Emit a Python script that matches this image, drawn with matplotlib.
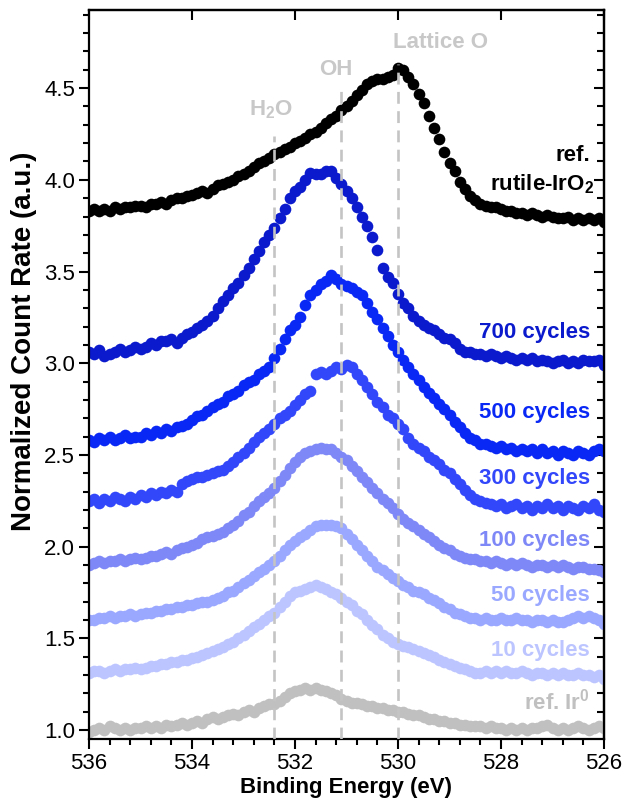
import matplotlib
matplotlib.use('Agg')

import matplotlib.pyplot as plt
import numpy as np
from matplotlib.ticker import MultipleLocator

plt.rcParams['font.family'] = 'Liberation Sans'
plt.rcParams['mathtext.fontset'] = 'custom'
plt.rcParams['mathtext.rm'] = 'Liberation Sans'
plt.rcParams['mathtext.bf'] = 'Liberation Sans:bold'

# O 1s scan grid, 536 -> 526 eV in 0.1 eV steps
energy = np.linspace(536, 526, 101)

ref_rutile = [
    3.83, 3.84, 3.83, 3.84, 3.83, 3.85, 3.84, 3.85, 3.85, 3.86,
    3.86, 3.85, 3.87, 3.87, 3.88, 3.87, 3.89, 3.90, 3.90, 3.91,
    3.92, 3.93, 3.94, 3.93, 3.95, 3.97, 3.98, 3.99, 4.00, 4.02,
    4.03, 4.05, 4.07, 4.09, 4.10, 4.12, 4.14, 4.15, 4.17, 4.18,
    4.20, 4.21, 4.23, 4.25, 4.26, 4.28, 4.31, 4.33, 4.35, 4.38,
    4.40, 4.43, 4.46, 4.49, 4.52, 4.54, 4.55, 4.55, 4.56, 4.57,
    4.61, 4.60, 4.56, 4.52, 4.47, 4.42, 4.35, 4.28, 4.22, 4.15,
    4.09, 4.05, 3.99, 3.95, 3.91, 3.89, 3.87, 3.86, 3.85, 3.85,
    3.84, 3.83, 3.83, 3.82, 3.82, 3.81, 3.82, 3.81, 3.80, 3.81,
    3.80, 3.79, 3.79, 3.80, 3.78, 3.79, 3.78, 3.79, 3.78, 3.79,
    3.77]

cyc700 = [
    3.06, 3.05, 3.07, 3.04, 3.05, 3.06, 3.08, 3.06, 3.07, 3.09,
    3.08, 3.09, 3.11, 3.10, 3.12, 3.12, 3.13, 3.11, 3.14, 3.16,
    3.17, 3.19, 3.21, 3.23, 3.26, 3.30, 3.34, 3.37, 3.41, 3.44,
    3.48, 3.52, 3.57, 3.61, 3.66, 3.70, 3.74, 3.79, 3.84, 3.90,
    3.94, 3.96, 4.00, 4.04, 4.03, 4.03, 4.05, 4.05, 4.01, 3.98,
    3.94, 3.90, 3.85, 3.80, 3.75, 3.69, 3.62, 3.52, 3.47, 3.44,
    3.38, 3.33, 3.30, 3.26, 3.23, 3.21, 3.19, 3.18, 3.16, 3.14,
    3.13, 3.11, 3.08, 3.06, 3.06, 3.05, 3.05, 3.04, 3.05, 3.04,
    3.03, 3.04, 3.03, 3.02, 3.03, 3.02, 3.03, 3.01, 3.02, 3.01,
    3.00, 3.01, 3.02, 3.00, 3.01, 3.00, 3.02, 3.01, 3.01, 3.02,
    2.99]

cyc500 = [
    2.58, 2.57, 2.59, 2.58, 2.60, 2.58, 2.59, 2.61, 2.59, 2.60,
    2.60, 2.62, 2.61, 2.63, 2.62, 2.64, 2.63, 2.65, 2.66, 2.67,
    2.69, 2.71, 2.72, 2.74, 2.76, 2.78, 2.79, 2.82, 2.83, 2.85,
    2.88, 2.90, 2.91, 2.94, 2.96, 2.98, 3.03, 3.08, 3.13, 3.18,
    3.21, 3.25, 3.32, 3.37, 3.40, 3.43, 3.45, 3.48, 3.46, 3.43,
    3.42, 3.41, 3.39, 3.37, 3.33, 3.28, 3.24, 3.19, 3.15, 3.10,
    3.06, 3.02, 2.98, 2.94, 2.91, 2.87, 2.84, 2.81, 2.78, 2.75,
    2.72, 2.68, 2.65, 2.62, 2.59, 2.58, 2.56, 2.56, 2.55, 2.54,
    2.55, 2.53, 2.54, 2.52, 2.53, 2.52, 2.53, 2.51, 2.53, 2.51,
    2.52, 2.50, 2.52, 2.51, 2.50, 2.52, 2.51, 2.50, 2.52, 2.53,
    2.52]

cyc300 = [
    2.25, 2.26, 2.24, 2.26, 2.25, 2.27, 2.26, 2.25, 2.27, 2.26,
    2.28, 2.27, 2.29, 2.28, 2.30, 2.29, 2.31, 2.30, 2.34, 2.36,
    2.37, 2.38, 2.38, 2.39, 2.40, 2.41, 2.42, 2.44, 2.46, 2.49,
    2.51, 2.54, 2.57, 2.60, 2.62, 2.64, 2.67, 2.70, 2.72, 2.74,
    2.77, 2.80, 2.83, 2.85, 2.94, 2.95, 2.94, 2.96, 2.98, 2.97,
    2.99, 2.98, 2.94, 2.91, 2.87, 2.83, 2.79, 2.76, 2.72, 2.70,
    2.67, 2.64, 2.59, 2.56, 2.54, 2.52, 2.49, 2.47, 2.45, 2.42,
    2.40, 2.37, 2.34, 2.31, 2.28, 2.26, 2.25, 2.24, 2.23, 2.22,
    2.23, 2.21, 2.22, 2.23, 2.21, 2.22, 2.20, 2.22, 2.21, 2.23,
    2.21, 2.22, 2.20, 2.22, 2.21, 2.20, 2.22, 2.21, 2.23, 2.20,
    2.19]

cyc100 = [
    1.90, 1.91, 1.92, 1.91, 1.92, 1.92, 1.93, 1.92, 1.93, 1.94,
    1.93, 1.94, 1.95, 1.95, 1.96, 1.97, 1.96, 1.98, 1.99, 2.00,
    2.01, 2.02, 2.04, 2.05, 2.06, 2.07, 2.08, 2.10, 2.12, 2.14,
    2.17, 2.19, 2.22, 2.25, 2.27, 2.29, 2.32, 2.36, 2.39, 2.43,
    2.46, 2.49, 2.51, 2.52, 2.53, 2.54, 2.53, 2.53, 2.51, 2.49,
    2.47, 2.44, 2.41, 2.38, 2.35, 2.32, 2.29, 2.26, 2.24, 2.21,
    2.18, 2.15, 2.13, 2.11, 2.09, 2.07, 2.05, 2.03, 2.01, 1.99,
    1.98, 1.96, 1.95, 1.94, 1.93, 1.93, 1.92, 1.92, 1.91, 1.92,
    1.91, 1.90, 1.91, 1.90, 1.91, 1.90, 1.89, 1.90, 1.90, 1.89,
    1.90, 1.89, 1.90, 1.89, 1.88, 1.89, 1.89, 1.88, 1.88, 1.87,
    1.86]

cyc50 = [
    1.60, 1.60, 1.61, 1.61, 1.62, 1.61, 1.62, 1.62, 1.63, 1.62,
    1.63, 1.64, 1.64, 1.65, 1.65, 1.66, 1.66, 1.67, 1.67, 1.68,
    1.68, 1.69, 1.70, 1.70, 1.71, 1.72, 1.73, 1.75, 1.76, 1.78,
    1.80, 1.82, 1.84, 1.86, 1.88, 1.90, 1.92, 1.95, 1.98, 2.01,
    2.03, 2.05, 2.07, 2.09, 2.11, 2.12, 2.12, 2.12, 2.11, 2.10,
    2.07, 2.04, 2.01, 1.98, 1.95, 1.92, 1.89, 1.87, 1.85, 1.83,
    1.81, 1.79, 1.78, 1.76, 1.75, 1.74, 1.72, 1.71, 1.69, 1.67,
    1.66, 1.64, 1.63, 1.62, 1.61, 1.61, 1.60, 1.61, 1.60, 1.60,
    1.61, 1.60, 1.60, 1.61, 1.60, 1.60, 1.59, 1.60, 1.60, 1.59,
    1.60, 1.59, 1.59, 1.60, 1.61, 1.62, 1.61, 1.62, 1.61, 1.60,
    1.58]

cyc10 = [
    1.31, 1.32, 1.32, 1.31, 1.32, 1.33, 1.32, 1.33, 1.33, 1.34,
    1.33, 1.34, 1.35, 1.35, 1.36, 1.36, 1.37, 1.37, 1.38, 1.38,
    1.39, 1.40, 1.41, 1.42, 1.43, 1.44, 1.45, 1.47, 1.48, 1.50,
    1.52, 1.54, 1.56, 1.58, 1.60, 1.62, 1.64, 1.67, 1.70, 1.73,
    1.75, 1.76, 1.77, 1.78, 1.79, 1.78, 1.77, 1.75, 1.74, 1.72,
    1.70, 1.68, 1.65, 1.63, 1.60, 1.57, 1.55, 1.52, 1.50, 1.48,
    1.47, 1.46, 1.45, 1.44, 1.43, 1.42, 1.41, 1.40, 1.38, 1.37,
    1.36, 1.35, 1.34, 1.33, 1.32, 1.31, 1.31, 1.32, 1.31, 1.32,
    1.31, 1.32, 1.31, 1.31, 1.32, 1.31, 1.30, 1.31, 1.31, 1.30,
    1.31, 1.30, 1.31, 1.30, 1.30, 1.31, 1.30, 1.30, 1.29, 1.30,
    1.28]

ref_ir0 = [
    0.99, 1.00, 1.01, 1.00, 1.02, 1.01, 1.00, 1.01, 1.00, 1.01,
    1.01, 1.02, 1.01, 1.02, 1.01, 1.03, 1.02, 1.03, 1.04, 1.03,
    1.04, 1.05, 1.04, 1.06, 1.07, 1.06, 1.07, 1.08, 1.09, 1.08,
    1.10, 1.11, 1.10, 1.12, 1.13, 1.14, 1.14, 1.16, 1.18, 1.20,
    1.21, 1.22, 1.23, 1.22, 1.23, 1.22, 1.21, 1.20, 1.19, 1.17,
    1.16, 1.15, 1.15, 1.14, 1.13, 1.13, 1.12, 1.12, 1.11, 1.11,
    1.10, 1.10, 1.09, 1.08, 1.08, 1.07, 1.06, 1.06, 1.05, 1.05,
    1.04, 1.04, 1.03, 1.03, 1.02, 1.02, 1.02, 1.01, 1.02, 1.01,
    1.01, 1.00, 1.01, 1.00, 1.01, 1.00, 1.01, 1.01, 1.02, 1.03,
    1.01, 1.00, 1.01, 1.00, 1.01, 1.02, 1.01, 1.00, 1.01, 1.02,
    1.01]

labels = ['ref. Ir$^\\mathbf{0}$', '10 cycles', '50 cycles', '100 cycles',
          '300 cycles', '500 cycles', '700 cycles']
colors = ['#c0c0c0', '#bcc5ff', '#9aa8ff', '#7f88f7',
          '#3347fa', '#0a28f5', '#0a1acc']
label_y = [1.153, 1.436, 1.736, 2.036, 2.374, 2.734, 3.17]

# component positions (eV) and where their dashed markers stop
peaks = ['H$_\\mathbf{2}$O', 'OH', 'Lattice O']
peak_e = [532.4, 531.1, 530.0]
peak_top = [4.24, 4.51, 4.63]
peak_label_pos = [(532.47, 4.38), (531.2, 4.60), (529.17, 4.75)]

fig = plt.figure(figsize=(6.25, 8.08), dpi=100)
ax = fig.add_axes([0.1424, 0.0854, 0.824, 0.9022])

ymin, ymax = 0.951, 4.926

spectra = [ref_ir0, cyc10, cyc50, cyc100, cyc300, cyc500, cyc700]
for vals, c in zip(spectra, colors):
    ax.plot(energy, vals, 'o', ms=8.4, color=c, mew=0, zorder=2)
ax.plot(energy, ref_rutile, 'o', ms=8.4, color='black', mew=0, zorder=2)

for e, top in zip(peak_e, peak_top):
    ax.plot([e, e], [ymin, top], color='#c4c4c4', lw=1.9,
            dashes=(4.5, 2.8), zorder=3)
for name, (x, y) in zip(peaks, peak_label_pos):
    ax.text(x, y, name, color='#c8c8c8', fontsize=16, fontweight='bold',
            ha='center', va='center')

for name, c, y in zip(labels, colors, label_y):
    ax.text(526.27, y, name, color=c, fontsize=16, fontweight='bold',
            ha='right', va='center')
ax.text(526.27, 4.135, 'ref.', color='black', fontsize=16,
        fontweight='bold', ha='right', va='center')
ax.text(526.2, 3.975, 'rutile-IrO$_\\mathbf{2}$', color='black', fontsize=16,
        fontweight='bold', ha='right', va='center')

ax.set_xlim(536, 526)
ax.set_ylim(ymin, ymax)
ax.xaxis.set_major_locator(MultipleLocator(2))
ax.xaxis.set_minor_locator(MultipleLocator(0.4))
ax.yaxis.set_major_locator(MultipleLocator(0.5))
ax.yaxis.set_minor_locator(MultipleLocator(0.1))
ax.tick_params(which='major', direction='out', length=7, width=1.5,
               labelsize=16, pad=3)
ax.tick_params(which='minor', direction='out', length=4, width=1.5)
for s in ax.spines.values():
    s.set_linewidth(1.6)

# mirrored ticks on top and right, pointing inward
top = ax.secondary_xaxis('top')
top.xaxis.set_major_locator(MultipleLocator(2))
top.tick_params(direction='in', length=7, width=1.5, labeltop=False)
top.spines['top'].set_linewidth(1.6)
right = ax.secondary_yaxis('right')
right.yaxis.set_major_locator(MultipleLocator(0.5))
right.yaxis.set_minor_locator(MultipleLocator(0.1))
right.tick_params(which='major', direction='in', length=7, width=1.5,
                  labelright=False)
right.tick_params(which='minor', direction='in', length=5, width=1.5)
right.spines['right'].set_linewidth(1.6)

ax.set_xlabel('Binding Energy (eV)', fontsize=16, fontweight='bold',
              labelpad=2)
ax.set_ylabel('Normalized Count Rate (a.u.)', fontsize=20,
              fontweight='bold')
ax.yaxis.set_label_coords(-0.100, 0.545)

fig.savefig('out.png', dpi=100)
